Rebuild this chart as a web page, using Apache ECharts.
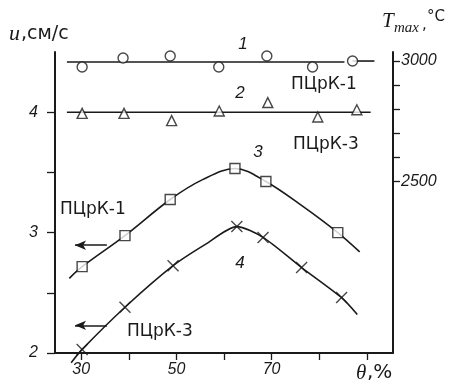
<!DOCTYPE html>
<html><head><meta charset="utf-8">
<script src="https://cdn.jsdelivr.net/npm/echarts@6/dist/echarts.min.js"></script>
<style>html,body{margin:0;padding:0;background:#fff}#c{width:449px;height:385px}</style>
</head><body><div id="c"></div>
<script>
// Data (θ in %, u in см/с)
const xTicks = [30, 40, 50, 60, 70, 80, 90];
const xLabels = [30, 50, 70];
const yTicks = [2, 2.5, 3, 3.5, 4];
const yLabels = [2, 3, 4];
const tTicks = [2500, 2600, 2700, 2800, 2900, 3000];
const tLabels = [2500, 3000];

const circles = [[30.2,4.375],[38.8,4.45],[48.7,4.467],[58.9,4.375],[69,4.467],[78.6,4.375],[87,4.425]];
const line1 = [[27,4.417],[85.3,4.417]];
const line1Stub = [[87,4.425],[91.6,4.425]];
const triangles = [[30.2,3.99],[39,3.99],[49,3.93],[59,4.01],[69.2,4.08],[79.7,3.96],[87.9,4.02]];
const line2 = [[27,4.0],[90.8,4.0]];
const squares = [[30.2,2.717],[39.2,2.975],[48.7,3.275],[62.3,3.533],[68.8,3.425],[83.9,3.0]];
const curve3 = [[27.5,2.62],[30.2,2.717],[39.2,2.975],[48.7,3.275],[55.5,3.44],[62.3,3.533],[68.8,3.425],[76.5,3.22],[83.9,3.0],[88.5,2.84]];
const crosses = [[30.2,2.03],[39.2,2.38],[49.3,2.725],[62.7,3.05],[68.2,2.96],[76.3,2.71],[84.7,2.46]];
const curve4 = [[27.9,1.92],[30.2,2.03],[39.2,2.38],[49.3,2.725],[56,2.9],[62.7,3.05],[68.2,2.96],[76.3,2.71],[84.7,2.46],[88,2.32]];
const arrow1 = [[28.7,2.895],[35.4,2.895]];
const arrow2 = [[28.7,2.23],[35.4,2.23]];

const INK = '#1a1a1a';
const chart = echarts.init(document.getElementById('c'));
const lineS = (data, smooth) => ({type:'line', data, symbol:'none', smooth: smooth||false, smoothMonotone:null,
  lineStyle:{color:INK, width:1.6}, z:2, silent:true, clip:false});
const markS = (data, symbol, size, extra) => Object.assign({type:'scatter', data, symbol, symbolSize:size,
  itemStyle:{color:'#fff', borderColor:INK, borderWidth:1.4}, z:5}, extra||{});
const arrowS = (pts) => ({type:'line', data:[], markLine:{silent:true, symbol:['arrow','none'], symbolSize:[7,11],
  lineStyle:{color:INK, width:1.5, type:'solid'}, label:{show:false},
  data:[[{coord:pts[0]},{coord:pts[1]}]]}});
const txt = (x, y, text, font, align) => ({type:'text', x, y, style:{text, font, fill:INK, align:align||'left', verticalAlign:'middle'}});

chart.setOption({
  animation:false,
  grid:{left:55, right:56, top:52, bottom:32},
  xAxis:{type:'value', min:24.5, max:95.5,
    axisLine:{lineStyle:{color:INK, width:2}},
    axisTick:{customValues:xTicks, length:7, lineStyle:{color:INK, width:1.3}},
    axisLabel:{customValues:xLabels, fontStyle:'italic', fontSize:16, color:INK, margin:9, fontFamily:'Liberation Sans'},
    splitLine:{show:false}},
  yAxis:[
    {type:'value', min:2, max:4.5, position:'left',
      axisLine:{show:true, lineStyle:{color:INK, width:2}},
      axisTick:{show:true, customValues:yTicks, length:8, lineStyle:{color:INK, width:1.3}},
      axisLabel:{customValues:yLabels, fontStyle:'italic', fontSize:16, color:INK, margin:17, fontFamily:'Liberation Sans'},
      splitLine:{show:false}},
    {type:'value', min:1787.5, max:3037.5, position:'right',
      axisLine:{show:true, lineStyle:{color:INK, width:2}},
      axisTick:{show:true, customValues:tTicks, length:7, lineStyle:{color:INK, width:1.3}},
      axisLabel:{customValues:tLabels, formatter:(v)=>String(v), fontStyle:'italic', fontSize:16, color:INK, margin:8, fontFamily:'Liberation Sans'},
      splitLine:{show:false}}
  ],
  series:[
    lineS(line1), lineS(line1Stub), lineS(line2),
    lineS(curve3, 0.35), lineS(curve4, 0.25),
    markS(circles,'circle',10),
    markS(triangles,'triangle',10),
    markS(squares,'rect',10),
    markS(crosses,'path://M0,0L10,10M10,0L0,10',11,{itemStyle:{color:'none', borderColor:INK, borderWidth:1.4}}),
    arrowS(arrow1), arrowS(arrow2)
  ],
  graphic:[
    txt(9, 34, 'u', 'italic 22px "Liberation Serif"'),
    txt(21, 34, ',см/с', '19px "DejaVu Sans"'),
    txt(382, 21, 'T', 'italic 21px "Liberation Serif"'),
    txt(394, 28, 'max', 'italic 15px "Liberation Serif"'),
    txt(422, 25, ',', '15px "DejaVu Sans"'),
    txt(427, 17, '°C', '15px "DejaVu Sans"'),
    txt(243, 44, '1', 'italic 17px "Liberation Sans"', 'center'),
    txt(240, 93, '2', 'italic 17px "Liberation Sans"', 'center'),
    txt(258, 152, '3', 'italic 17px "Liberation Sans"', 'center'),
    txt(240, 263, '4', 'italic 17px "Liberation Sans"', 'center'),
    txt(291, 85, 'ПЦрК-1', '17px "DejaVu Sans"'),
    txt(293, 145, 'ПЦрК-3', '17px "DejaVu Sans"'),
    txt(60, 210, 'ПЦрК-1', '17px "DejaVu Sans"'),
    txt(127, 332, 'ПЦрК-3', '17px "DejaVu Sans"'),
    txt(356, 373, 'θ', 'italic 21px "Liberation Serif"'),
    txt(367, 373, ',%', '20px "DejaVu Sans"')
  ]
});
</script></body></html>
